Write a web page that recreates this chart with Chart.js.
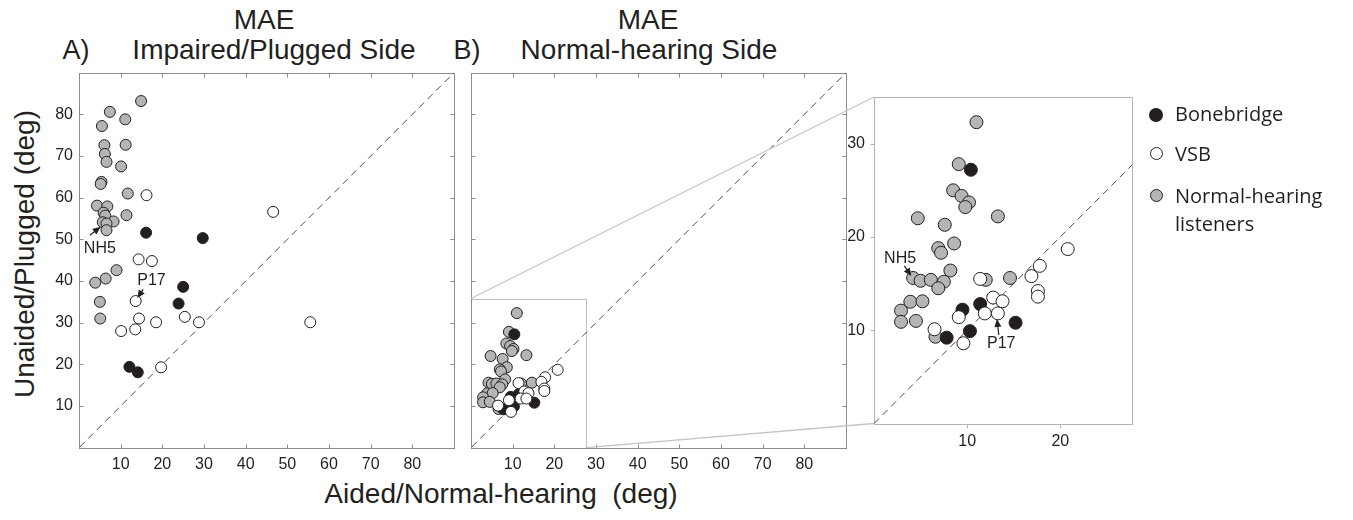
<!DOCTYPE html>
<html><head><meta charset="utf-8">
<script src="https://cdn.jsdelivr.net/npm/chart.js@4.4.1/dist/chart.umd.min.js"></script>
<style>
html,body{margin:0;padding:0;background:#fff;}
body{width:1353px;height:520px;position:relative;overflow:hidden;font-family:"Liberation Sans",Arial,sans-serif;color:#231f20;}
canvas{position:absolute;}
.t{position:absolute;white-space:nowrap;line-height:1;transform:translateX(-50%);}
.lg{position:absolute;font-family:"Open Sans","Noto Sans",sans-serif;font-size:20px;color:#231f20;line-height:28px;white-space:nowrap;}
.dot{position:absolute;border-radius:50%;box-sizing:border-box;}
</style></head><body>

<div class="t" style="left:264px;top:6px;font-size:28px;">MAE</div>
<div class="t" style="left:274px;top:36px;font-size:28px;">Impaired/Plugged Side</div>
<div class="t" style="left:76px;top:37px;font-size:27px;">A)</div>
<div class="t" style="left:648px;top:6px;font-size:28px;">MAE</div>
<div class="t" style="left:649px;top:36px;font-size:28px;">Normal-hearing Side</div>
<div class="t" style="left:467px;top:37px;font-size:27px;">B)</div>
<div class="t" style="left:25px;top:254px;font-size:28px;transform:translate(-50%,-50%) rotate(-90deg);">Unaided/Plugged (deg)</div>
<div class="t" style="left:501px;top:480px;font-size:28px;">Aided/Normal-hearing&nbsp; (deg)</div>

<canvas id="cA" width="470" height="480" style="left:0;top:0"></canvas>
<canvas id="cB" width="400" height="480" style="left:460px;top:0"></canvas>
<canvas id="cI" width="330" height="400" style="left:820px;top:60px"></canvas>
<canvas id="ov" width="1353" height="520" style="left:0;top:0;pointer-events:none"></canvas>

<div class="dot" style="left:1149px;top:108px;width:14px;height:14px;background:#231f20;"></div>
<div class="lg" style="left:1175px;top:100px;">Bonebridge</div>
<div class="dot" style="left:1150px;top:147px;width:13px;height:13px;background:#fff;border:1px solid #231f20;"></div>
<div class="lg" style="left:1175px;top:140px;">VSB</div>
<div class="dot" style="left:1150px;top:189px;width:13px;height:13px;background:#b5b5b5;border:1px solid #231f20;"></div>
<div class="lg" style="left:1175px;top:182px;">Normal-hearing<br>listeners</div>

<script>
// ---------- DATA ----------
const axisTicksAB = [10, 20, 30, 40, 50, 60, 70, 80];
const insetTicksX = [10, 20];
const insetTicksY = [10, 20, 30];
const axisRangeAB = [0, 90];
const insetRangeX = [0, 27.7];
const insetRangeY = [0, 35];
const zoomRect = [27.7, 35.8];
const seriesLabels = ['Bonebridge', 'VSB', 'Normal-hearing listeners'];

// Panel A: impaired / plugged side  [aided, unaided]
const pluggedBonebridge = [[16.1,51.6],[29.7,50.3],[25.0,38.6],[23.9,34.6],[12.1,19.4],[14.1,18.1]];
const pluggedVSB = [[16.2,60.6],[46.6,56.6],[14.3,45.2],[17.5,44.8],[13.6,35.2],[14.4,31.0],[18.5,30.1],
  [10.1,28.0],[13.5,28.4],[25.4,31.4],[28.8,30.1],[55.5,30.1],[19.7,19.3]];
const pluggedNormal = [[14.9,83.2],[7.4,80.6],[5.5,77.2],[11.1,78.8],[6.1,72.6],[11.2,72.7],[6.2,70.5],
  [6.6,68.6],[10.1,67.5],[5.4,63.8],[5.2,63.3],[11.7,61.0],[4.3,58.1],[6.8,57.9],[5.9,56.4],[6.3,55.7],
  [11.4,55.8],[8.3,54.3],[5.7,54.1],[6.6,53.8],[6.6,52.2],[9.0,42.6],[6.4,40.6],[3.9,39.6],[5.0,35.0],[5.1,31.0]];

// Panel B: normal-hearing side
const normalBonebridge = [[10.4,27.2],[9.5,12.2],[11.4,12.8],[10.3,9.9],[7.8,9.2],[15.2,10.8]];
const normalVSB = [[20.8,18.7],[17.8,16.9],[16.9,15.8],[17.6,14.2],[17.6,13.6],[11.4,15.5],[12.8,13.5],
  [13.8,13.1],[11.9,11.8],[13.3,11.8],[9.1,11.4],[6.5,10.1],[9.6,8.6]];
const normalNormal = [[11.0,32.3],[9.1,27.8],[8.5,25.0],[9.4,24.4],[10.2,23.7],[9.8,23.2],[4.7,22.0],
  [13.3,22.2],[7.6,21.3],[8.6,19.3],[6.9,18.8],[7.2,18.3],[8.2,16.4],[4.2,15.6],[5.0,15.3],[6.1,15.4],
  [7.5,15.2],[6.9,14.5],[12.0,15.4],[14.6,15.6],[3.9,13.05],[5.2,13.1],[2.9,12.1],[2.9,10.9],[4.5,11.0],[6.6,9.3]];

// annotations: [text, labelX, labelY, arrowTailX, arrowTailY, arrowTipX, arrowTipY]
const notesA = [['NH5', 5.0, 47.9, 2.6, 51.0, 5.2, 53.0], ['P17', 17.4, 40.0, 15.4, 38.0, 14.0, 35.9]];
const notesInset = [['NH5', 2.8, 17.7, 3.26, 16.9, 4.0, 15.8], ['P17', 13.66, 8.6, 13.4, 9.5, 13.2, 11.2]];

// ---------- STYLE ----------
const INK = '#231f20';
const fills = ['#231f20', '#ffffff', '#b5b5b5'];
const toXY = arr => arr.map(p => ({x: p[0], y: p[1]}));

const framePlugin = {
  id: 'frame',
  beforeDatasetsDraw(chart, args, o) {
    const {ctx, chartArea: a, scales: {x, y}} = chart;
    const r = v => Math.round(v) + 0.5;
    ctx.save();
    ctx.lineWidth = 1;
    if (o.rect) {
      ctx.strokeStyle = o.rect.color;
      const x0 = r(x.getPixelForValue(0)), x1 = r(x.getPixelForValue(o.rect.x));
      const y0 = r(y.getPixelForValue(0)), y1 = r(y.getPixelForValue(o.rect.y));
      ctx.strokeRect(x0, y1, x1 - x0, y0 - y1);
    }
    ctx.strokeStyle = o.color;
    ctx.strokeRect(r(a.left), r(a.top), Math.round(a.right) - Math.round(a.left), Math.round(a.bottom) - Math.round(a.top));
    const L = o.len, d = o.inward ? 1 : -1;
    ctx.beginPath();
    (o.xTicks || []).forEach(v => {
      const px = r(x.getPixelForValue(v));
      ctx.moveTo(px, r(a.bottom)); ctx.lineTo(px, r(a.bottom) - d * L);
      if (o.mirror) { ctx.moveTo(px, r(a.top)); ctx.lineTo(px, r(a.top) + L); }
    });
    (o.yTicks || []).forEach(v => {
      const py = r(y.getPixelForValue(v));
      ctx.moveTo(r(a.left), py); ctx.lineTo(r(a.left) + d * L, py);
      if (o.mirror) { ctx.moveTo(r(a.right), py); ctx.lineTo(r(a.right) - L, py); }
    });
    ctx.stroke();
    ctx.restore();
  },
  afterDatasetsDraw(chart, args, o) {
    if (!o.notes) return;
    const {ctx, scales: {x, y}} = chart;
    ctx.save();
    ctx.fillStyle = INK; ctx.strokeStyle = INK; ctx.lineWidth = 1.2;
    ctx.font = '16px "Liberation Sans", Arial, sans-serif';
    ctx.textAlign = 'center'; ctx.textBaseline = 'middle';
    o.notes.forEach(n => {
      ctx.fillText(n[0], x.getPixelForValue(n[1]), y.getPixelForValue(n[2]));
      const x0 = x.getPixelForValue(n[3]), y0 = y.getPixelForValue(n[4]);
      const x1 = x.getPixelForValue(n[5]), y1 = y.getPixelForValue(n[6]);
      const ang = Math.atan2(y1 - y0, x1 - x0);
      ctx.beginPath(); ctx.moveTo(x0, y0); ctx.lineTo(x1 - 4 * Math.cos(ang), y1 - 4 * Math.sin(ang)); ctx.stroke();
      ctx.beginPath();
      ctx.moveTo(x1, y1);
      ctx.lineTo(x1 - 8 * Math.cos(ang) + 3.5 * Math.sin(ang), y1 - 8 * Math.sin(ang) - 3.5 * Math.cos(ang));
      ctx.lineTo(x1 - 8 * Math.cos(ang) - 3.5 * Math.sin(ang), y1 - 8 * Math.sin(ang) + 3.5 * Math.cos(ang));
      ctx.closePath(); ctx.fill();
    });
    ctx.restore();
  }
};

function datasets(bb, vsb, nh, radius) {
  const pt = (label, data, i, order) => ({
    label, data: toXY(data), order,
    pointRadius: radius, pointHoverRadius: radius, pointBorderWidth: 1,
    pointBorderColor: INK, pointBackgroundColor: fills[i], backgroundColor: fills[i], borderColor: INK
  });
  return [
    pt(seriesLabels[1], vsb, 1, 0),
    pt(seriesLabels[0], bb, 0, 1),
    pt(seriesLabels[2], nh, 2, 2),
    {type: 'line', label: 'identity', data: [{x: -10, y: -10}, {x: 100, y: 100}], order: 3,
     borderColor: '#4a4a4a', borderWidth: 1, borderDash: [7, 5], pointRadius: 0, fill: false}
  ];
}

function scale(range, ticks, opts) {
  return {
    type: 'linear', min: range[0], max: range[1],
    afterBuildTicks: s => { s.ticks = ticks.map(v => ({value: v})); },
    grid: {display: false, drawTicks: false}, border: {display: false},
    ticks: {display: opts.labels !== false, color: INK, padding: opts.pad,
            font: {family: '"Liberation Sans", Arial, sans-serif', size: opts.size || 16},
            maxRotation: 0, autoSkip: false},
    afterFit: s => { if (opts.w !== undefined) s.width = opts.w; if (opts.h !== undefined) s.height = opts.h; }
  };
}

function make(id, cfg) {
  return new Chart(document.getElementById(id), {
    type: 'scatter',
    data: {datasets: cfg.datasets},
    options: {
      responsive: false, animation: false, devicePixelRatio: 1,
      layout: {padding: cfg.padding},
      events: [],
      scales: {x: cfg.x, y: cfg.y},
      plugins: {legend: {display: false}, tooltip: {enabled: false}, frame: cfg.frame}
    },
    plugins: [framePlugin]
  });
}

const chartA = make('cA', {
  datasets: datasets(pluggedBonebridge, pluggedVSB, pluggedNormal, 5.5),
  padding: {left: 0, top: 72.7, right: 16, bottom: 2.3},
  x: scale(axisRangeAB, axisTicksAB, {pad: 7, h: 30}),
  y: scale(axisRangeAB, axisTicksAB, {pad: 6, w: 79}),
  frame: {color: '#8c8c8c', len: 4, inward: true, mirror: true, xTicks: axisTicksAB, yTicks: axisTicksAB, notes: notesA}
});

const chartB = make('cB', {
  datasets: datasets(normalBonebridge, normalVSB, normalNormal, 5.5),
  padding: {left: 0, top: 72.7, right: 14, bottom: 2.3},
  x: scale(axisRangeAB, axisTicksAB, {pad: 7, h: 30}),
  y: scale(axisRangeAB, axisTicksAB, {labels: false, pad: 0, w: 11}),
  frame: {color: '#8c8c8c', len: 4, inward: true, mirror: true, xTicks: axisTicksAB, yTicks: axisTicksAB,
          rect: {x: zoomRect[0], y: zoomRect[1], color: '#bdbdbd'}}
});

const chartI = make('cI', {
  datasets: datasets(normalBonebridge, normalVSB, normalNormal, 6.5),
  padding: {left: 0, top: 37, right: 18, bottom: 6.5},
  x: scale(insetRangeX, insetTicksX, {pad: 8, h: 30}),
  y: scale(insetRangeY, insetTicksY, {pad: 9, w: 54}),
  frame: {color: '#b4b4b4', len: 4, inward: false, mirror: false, xTicks: insetTicksX, yTicks: insetTicksY, notes: notesInset}
});

// connector lines between zoom rectangle (panel B) and inset
(function () {
  const ov = document.getElementById('ov').getContext('2d');
  const cb = document.getElementById('cB'), ci = document.getElementById('cI');
  const bx = cb.offsetLeft, by = cb.offsetTop, ix = ci.offsetLeft, iy = ci.offsetTop;
  const sx = chartB.scales.x, sy = chartB.scales.y, ia = chartI.chartArea;
  ov.strokeStyle = '#c4c4c4'; ov.lineWidth = 1.3;
  ov.beginPath();
  ov.moveTo(bx + sx.getPixelForValue(0), by + sy.getPixelForValue(zoomRect[1]));
  ov.lineTo(ix + ia.left, iy + ia.top);
  ov.moveTo(bx + sx.getPixelForValue(zoomRect[0]), by + sy.getPixelForValue(0));
  ov.lineTo(ix + ia.left, iy + ia.bottom);
  ov.stroke();
})();
</script>
</body></html>
